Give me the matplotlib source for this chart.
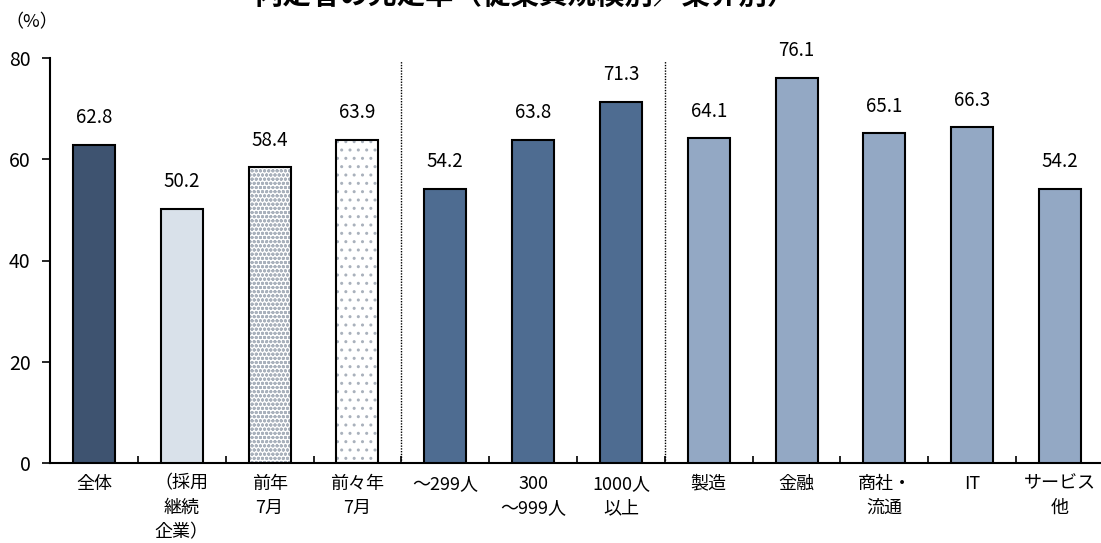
import matplotlib
matplotlib.use("Agg")
import matplotlib.pyplot as plt

plt.rcParams['font.family'] = ['Noto Sans CJK JP', 'DejaVu Sans']

# data
categories = ["全体", "（採用\n継続\n企業）", "前年\n7月", "前々年\n7月",
              "～299人", "300\n～999人", "1000人\n以上",
              "製造", "金融", "商社・\n流通", "IT", "サービス\n他"]
values = [62.8, 50.2, 58.4, 63.9, 54.2, 63.8, 71.3, 64.1, 76.1, 65.1, 66.3, 54.2]

_NAVY = "#3E5370"
_PALE = "#D9E1EA"
_SIZE = "#4E6C91"
_IND = "#93A8C4"
face_colors = [_NAVY, _PALE, "white", "white", _SIZE, _SIZE, _SIZE,
               _IND, _IND, _IND, _IND, _IND]
hatches = [None, None, "oooo", "..", None, None, None, None, None, None, None, None]

W, H, DPI = 1101, 543, 100
fig = plt.figure(figsize=(W / DPI, H / DPI), dpi=DPI)
ax = fig.add_axes([50 / W, (H - 463) / H, 1054 / W, 405 / H])

bw = 0.48
for i, (v, fc, h) in enumerate(zip(values, face_colors, hatches)):
    if h:
        ax.bar(i, v, width=bw, color=fc, hatch=h, edgecolor="#A9B1BC", linewidth=0, zorder=2)
        ax.bar(i, v, width=bw, fill=False, edgecolor="black", linewidth=1.5, zorder=3)
    else:
        ax.bar(i, v, width=bw, color=fc, edgecolor="black", linewidth=1.5, zorder=3)
    ax.text(i, v + 3.3, f"{v:.1f}", ha="center", va="bottom", fontsize=13.5)

# dotted group separators
for sep in (3.5, 6.5):
    ax.plot([sep, sep], [0, 79.5], color="black", linestyle=(0, (1, 1)), linewidth=1, zorder=1)

ax.set_xlim(-0.5, len(values) - 0.5)
ax.set_ylim(0, 80)
ax.set_yticks([0, 20, 40, 60, 80])
ax.tick_params(axis="y", direction="out", length=6, width=1.2, labelsize=14, pad=8)
ax.set_xticks([i + 0.5 for i in range(len(values) - 1)])
ax.set_xticklabels([])
ax.tick_params(axis="x", direction="in", length=5, width=1.2)
for i, lab in enumerate(categories):
    ax.text(i, -2.3, lab, ha="center", va="top", fontsize=13, linespacing=1.45)

for s in ("top", "right"):
    ax.spines[s].set_visible(False)
ax.spines["left"].set_linewidth(1.5)
ax.spines["bottom"].set_linewidth(1.5)

fig.text(32 / W, 1 - 22 / H, "（%）", ha="center", va="center", fontsize=13)
fig.text(525 / W, 1 + 4 / H, "内定者の充足率（従業員規模別／業界別）",
         ha="center", va="center", fontsize=20.5, fontweight="bold")

fig.savefig("out.png", dpi=DPI)
